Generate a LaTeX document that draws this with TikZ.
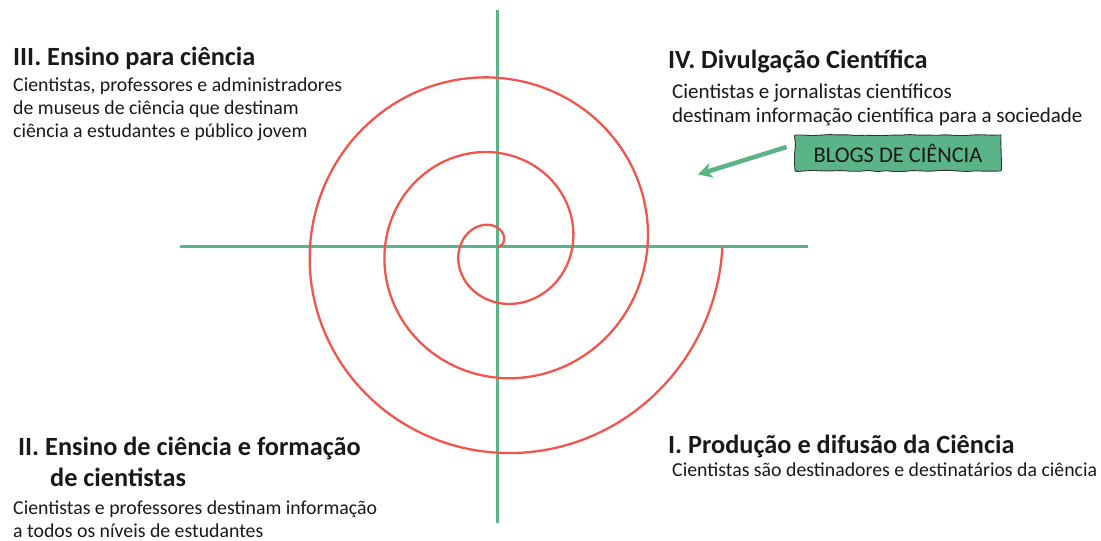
\documentclass[tikz,border=0pt]{standalone}
\usepackage{fontspec}
\setmainfont{Carlito}
\usetikzlibrary{arrows.meta,decorations.pathmorphing}

\definecolor{spiralred}{RGB}{240,86,78}
\definecolor{axisgreen}{RGB}{90,180,136}
\definecolor{inkgray}{RGB}{25,25,25}

\tikzset{
  axis/.style={axisgreen, line width=2.8pt},
  spiral/.style={spiralred, line width=2.3pt},
  heading/.style={anchor=base west, inner sep=0pt, text=inkgray, font=\fontsize{26.3}{30}\selectfont\bfseries},
  info/.style={anchor=base west, inner sep=0pt, align=left, text=inkgray, font=\fontsize{19.8}{23}\selectfont},
  blogbox/.style={fill=axisgreen, draw=black!80, line width=0.9pt, decorate,
    decoration={random steps, segment length=9pt, amplitude=0.6pt}, rounded corners=1pt,
    minimum width=206pt, minimum height=36pt, inner sep=0pt, text=inkgray, font=\fontsize{22.4}{24}\selectfont},
  pointer/.style={axisgreen, line width=4.5pt, -{Stealth[length=14pt, width=15pt, inset=4pt]}}
}

\begin{document}
\begin{tikzpicture}[x=1pt,y=-1pt]
\pgfmathsetseed{7}
\useasboundingbox (0,0) rectangle (1101,541);

% axes
\coordinate (left end) at (180,246.5);
\coordinate (right end) at (808,246.5);
\coordinate (top end) at (497.5,10);
\coordinate (bottom end) at (497.5,523);
\draw[axis] (left end) -- (right end);
\draw[axis] (top end) -- (bottom end);

% spiral
\draw[spiral] plot[domain=0:1080, samples=361, smooth] ({497.5+0.2083*\x*cos(\x)}, {246.5-0.2083*\x*sin(\x)});

% quadrant III
\node[heading] (t3) at (13,65.5) {III. Ensino para ciência};
\node[info] (d3) at (13,137.5) {Cientistas, professores e administradores\\de museus de ciência que destinam\\ciência a estudantes e público jovem};

% quadrant IV
\node[heading] (t4) at (668,68.5) {IV. Divulgação Científica};
\node[info, font=\fontsize{21}{24}\selectfont] (d4) at (672,122.5) {Cientistas e jornalistas científicos\\destinam informação científica para a sociedade};

% quadrant II
\node[heading] (t2) at (18,455.5) {II. Ensino de ciência e formação};
\node[heading] (t2b) at (50,486.5) {de cientistas};
\node[info] (d2) at (13,537.5) {Cientistas e professores destinam informação\\a todos os níveis de estudantes};

% quadrant I
\node[heading] (t1) at (668,453) {I. Produção e difusão da Ciência};
\node[info] (d1) at (672,476.5) {Cientistas são destinadores e destinatários da ciência};

% blogs
\node[blogbox] (blogs) at (898,153) {BLOGS DE CIÊNCIA};
\coordinate (tip) at (698,174.5);
\draw[pointer] ([xshift=-8pt,yshift=6pt]blogs.west) -- (tip);
\end{tikzpicture}
\end{document}
